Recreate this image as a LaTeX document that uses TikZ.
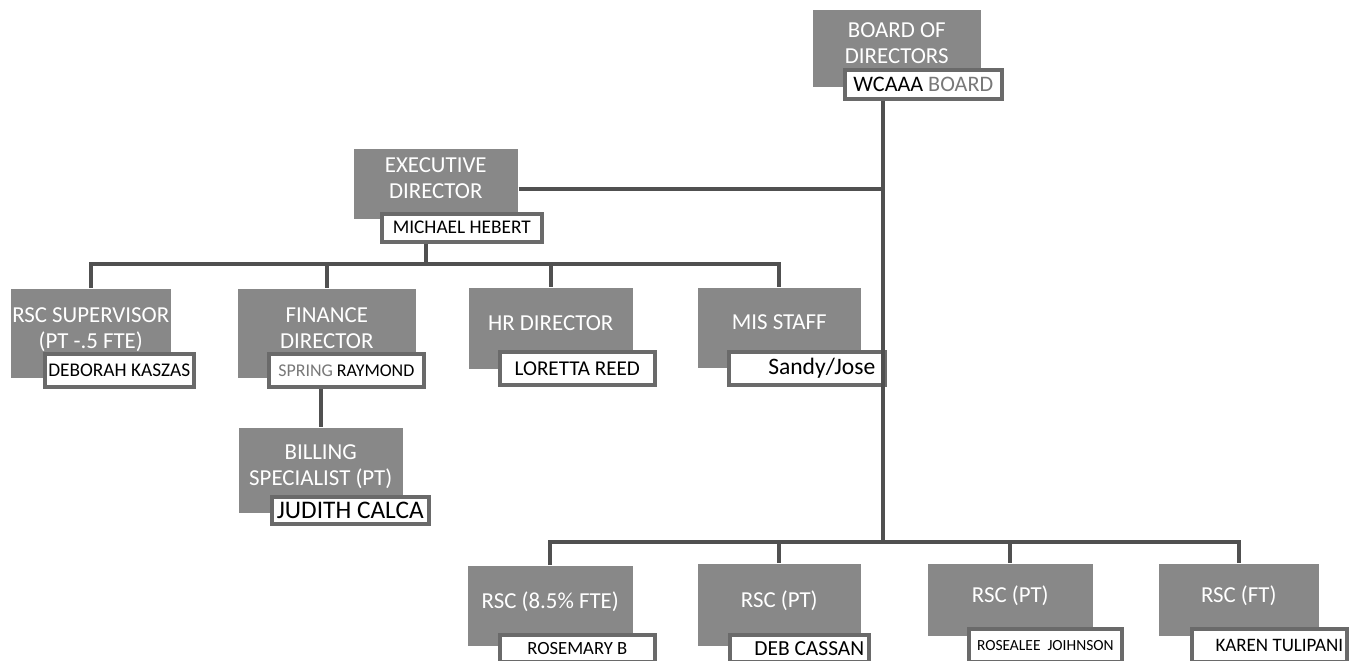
\documentclass[tikz,border=0pt]{standalone}
\usepackage{fontspec}
\setmainfont{Carlito}
\usetikzlibrary{shadows}
\definecolor{boxgray}{RGB}{136,136,136}
\definecolor{linegray}{RGB}{80,80,80}
\definecolor{softgray}{RGB}{120,120,120}

\begin{document}
\begin{tikzpicture}[x=0.01cm,y=-0.01cm,
    rolebox/.style={fill=boxgray, text=white, anchor=north west, inner sep=0pt, align=center, text depth=3pt, font=\fontsize{6.5}{7.4}\selectfont},
    namebox/.style={fill=white, draw=linegray!85, line width=1pt, anchor=north west, inner sep=0pt, text=black,
      drop shadow={shadow xshift=0.7pt, shadow yshift=-0.7pt, fill=gray!55, opacity=1}},
    link/.style={draw=linegray, line width=1.1pt}]
  \useasboundingbox (0,0) rectangle (1351,660);

  % Board
  \node[rolebox, minimum width=1.68cm, minimum height=0.77cm] (board) at (812,9) {BOARD OF\\DIRECTORS};
  \node[namebox, minimum width=1.57cm, minimum height=0.29cm, font=\fontsize{6.3}{7}\selectfont] (boardn) at (843,68) {WCAAA \textcolor{softgray}{BOARD}};

  % Executive director
  \node[rolebox, minimum width=1.64cm, minimum height=0.70cm] (exec) at (353,148) {EXECUTIVE\\DIRECTOR};
  \node[namebox, minimum width=1.60cm, minimum height=0.28cm, font=\fontsize{5.5}{6}\selectfont] (execn) at (380,212) {MICHAEL HEBERT};

  % Second row
  \node[rolebox, minimum width=1.60cm, minimum height=0.89cm] (sup) at (10,288) {RSC SUPERVISOR\\(PT -.5 FTE)};
  \node[namebox, minimum width=1.49cm, minimum height=0.33cm, font=\fontsize{5.5}{6}\selectfont] (supn) at (43,352) {DEBORAH KASZAS};

  \node[rolebox, minimum width=1.78cm, minimum height=0.89cm] (fin) at (237,288) {FINANCE\\DIRECTOR};
  \node[namebox, minimum width=1.55cm, minimum height=0.33cm, font=\fontsize{5.1}{6}\selectfont] (finn) at (267,352) {\textcolor{softgray}{SPRING} RAYMOND};

  \node[rolebox, minimum width=1.64cm, minimum height=0.81cm] (hr) at (468,287) {HR DIRECTOR};
  \node[namebox, minimum width=1.55cm, minimum height=0.33cm, font=\fontsize{6}{7}\selectfont] (hrn) at (498,350) {LORETTA REED};

  \node[rolebox, minimum width=1.63cm, minimum height=0.80cm] (mis) at (697,287) {MIS STAFF};
  \node[namebox, minimum width=1.56cm, minimum height=0.33cm, font=\fontsize{6.7}{7.5}\selectfont] (misn) at (727,350) {\hspace*{0.3cm}Sandy/Jose};

  % Billing
  \node[rolebox, minimum width=1.64cm, minimum height=0.85cm] (bill) at (238,427) {BILLING\\SPECIALIST (PT)};
  \node[namebox, minimum width=1.57cm, minimum height=0.27cm, font=\fontsize{7.2}{8}\selectfont] (billn) at (270,495) {JUDITH CALCA};

  % Bottom row
  \node[rolebox, minimum width=1.65cm, minimum height=0.80cm] (rsc1) at (467,565) {RSC (8.5\% FTE)};
  \node[namebox, minimum width=1.55cm, minimum height=0.27cm, font=\fontsize{5.3}{6}\selectfont] (rsc1n) at (498,633) {ROSEMARY B};

  \node[rolebox, minimum width=1.63cm, minimum height=0.82cm] (rsc2) at (697,563) {RSC (PT)};
  \node[namebox, minimum width=1.39cm, minimum height=0.27cm, font=\fontsize{6.1}{7}\selectfont] (rsc2n) at (728,633) {\hspace*{0.2cm}DEB CASSAN};

  \node[rolebox, minimum width=1.65cm, minimum height=0.72cm] (rsc3) at (927,563) {RSC (PT)};
  \node[namebox, minimum width=1.53cm, minimum height=0.33cm, font=\fontsize{4.4}{5}\selectfont] (rsc3n) at (967,627) {ROSEALEE\ \ JOIHNSON};

  \node[rolebox, minimum width=1.60cm, minimum height=0.72cm] (rsc4) at (1158,563) {RSC (FT)};
  \node[namebox, minimum width=1.55cm, minimum height=0.33cm, font=\fontsize{5.4}{6}\selectfont] (rsc4n) at (1190,627) {\hspace*{0.2cm}KAREN TULIPANI};

  % Connectors
  \coordinate (trunkbot) at (883,542);
  \coordinate (bar) at (426,264);
  \draw[link] (boardn.south -| trunkbot) -- (trunkbot);
  \draw[link] ([yshift=-0.05cm]exec.east) -- ([yshift=-0.05cm]exec.east -| trunkbot);
  \draw[link] (execn.south -| bar) -- (bar);
  \draw[link] (sup.north) |- (mis.north |- bar) -- (mis.north);
  \draw[link] (fin.north |- bar) -- (fin.north);
  \draw[link] (hr.north |- bar) -- (hr.north);
  \draw[link] (bill.north |- finn.south) -- (bill.north);
  \draw[link] (rsc1.north) |- (rsc4.north |- trunkbot) -- (rsc4.north);
  \draw[link] (rsc2.north |- trunkbot) -- (rsc2.north);
  \draw[link] (rsc3.north |- trunkbot) -- (rsc3.north);
\end{tikzpicture}
\end{document}
